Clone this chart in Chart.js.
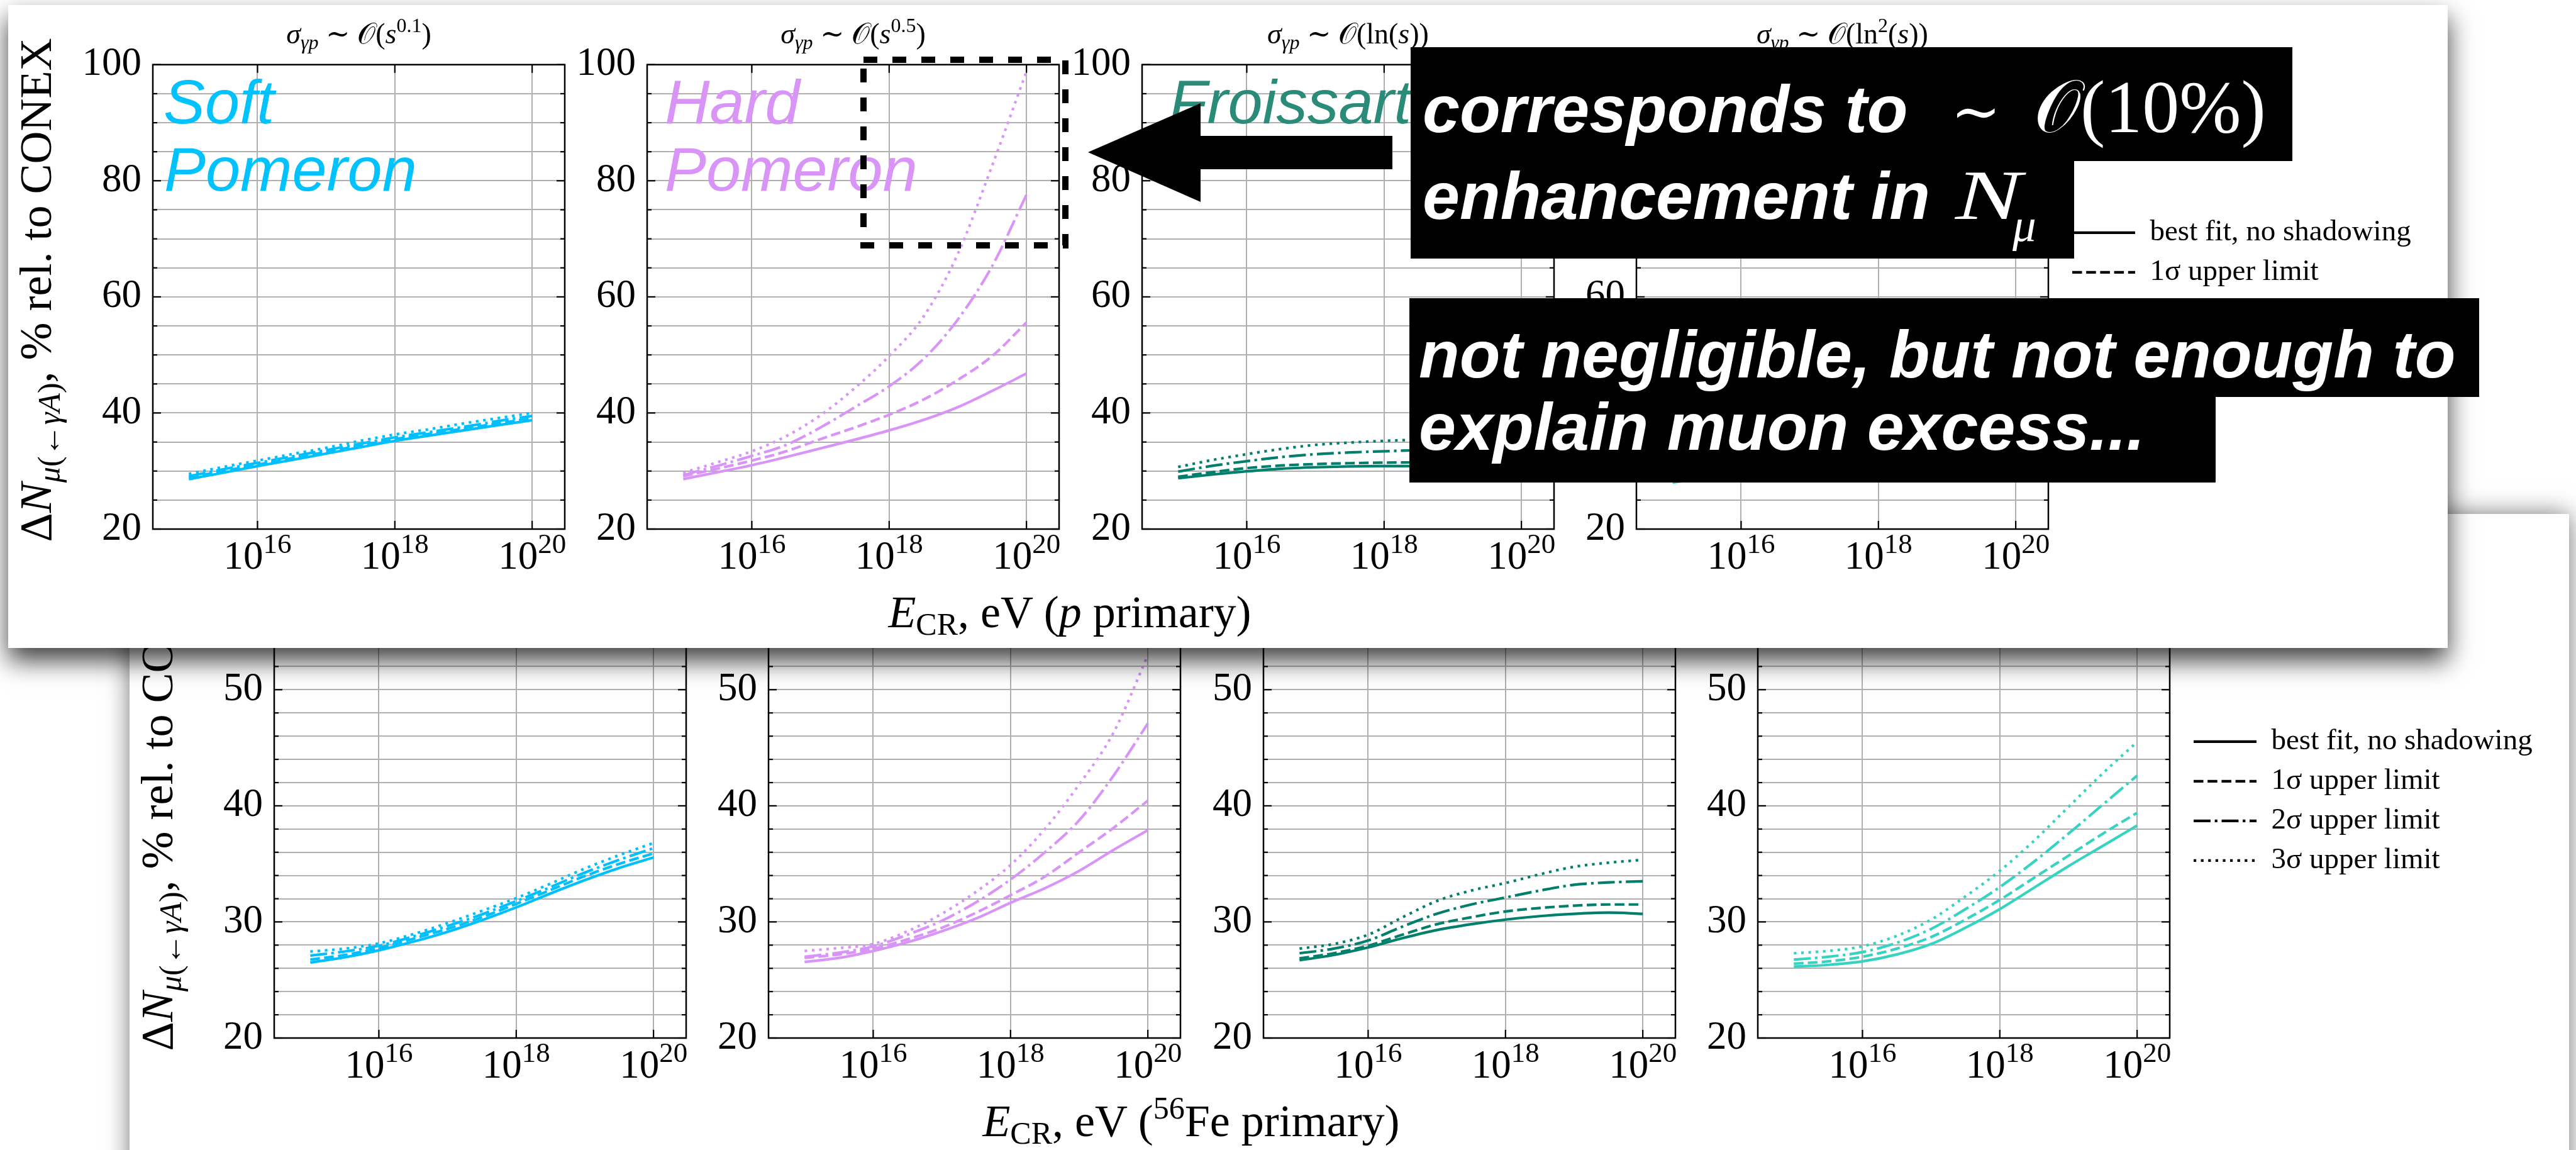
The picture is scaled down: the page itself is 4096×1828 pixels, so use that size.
<!DOCTYPE html>
<html>
<head>
<meta charset="utf-8">
<script src="https://cdn.jsdelivr.net/npm/chart.js@4/dist/chart.umd.min.js"></script>
<style>
  html, body { margin: 0; padding: 0; background: #fff; width: 4096px; height: 1828px; overflow: hidden; }
  .panel { position: absolute; background: #fff; }
  #figP  { left: 13px;  top: 8px;   width: 3879px; height: 1022px; box-shadow: 0 20px 38px rgba(0,0,0,0.75); z-index: 2; }
  #figFe { left: 206px; top: 817px; width: 3879px; height: 1100px; box-shadow: 0 0 36px rgba(0,0,0,0.55); z-index: 1; }
  .panel canvas { position: absolute; }
  .panel svg { position: absolute; left: 0; top: 0; overflow: visible; }
  #callouts { position: absolute; left: 0; top: 0; z-index: 3; }
</style>
</head>
<body>
<div class="panel" id="figFe"></div>
<div class="panel" id="figP"></div>

<svg id="callouts" width="4096" height="1828" xmlns="http://www.w3.org/2000/svg">
  <rect x="1373" y="95" width="321" height="295" fill="none" stroke="#000" stroke-width="10" stroke-dasharray="22 24"/>
  <polygon points="1730,242 1909,164 1909,216 2214,216 2214,269 1909,269 1909,321" fill="#000"/>
  <rect x="2243" y="75" width="1402" height="181" fill="#000"/>
  <rect x="2243" y="255" width="1055" height="156" fill="#000"/>
  <rect x="2241" y="474" width="1701" height="157" fill="#000"/>
  <rect x="2241" y="630" width="1282" height="137" fill="#000"/>
  <g fill="#fff" font-family="'Liberation Sans', Arial, sans-serif" font-weight="bold" font-style="italic" font-size="106">
    <text x="2262" y="210">corresponds to</text>
    <text x="2262" y="348">enhancement in</text>
    <text x="2256" y="600">not negligible, but not enough to</text>
    <text x="2256" y="715">explain muon excess...</text>
  </g>
  <g fill="#fff" font-family="'Liberation Serif', 'DejaVu Serif', serif">
    <text x="3102" y="210" font-size="95">∼</text>
    <text x="3234" y="210" font-size="118">𝒪(10%)</text>
    <text transform="translate(3109,348) scale(1.4,1)" font-size="113" font-style="italic">N</text>
    <text x="3200" y="383" font-size="75" font-style="italic">μ</text>
  </g>
</svg>

<script>
// log10(E_CR / eV) sample points shared by every curve
const X_LOG_E = [15, 15.5, 16, 16.5, 17, 17.5, 18, 18.5, 19, 19.5, 20];
const X_TICKS = [16, 18, 20];
const X_TICK_EXPONENTS = ['16', '18', '20'];
const X_MIN = 14.475, X_MAX = 20.475;

const P_Y_TICKS  = [20, 25, 30, 35, 40, 45, 50, 55, 60, 65, 70, 75, 80, 85, 90, 95, 100];
const P_Y_LABELS = [20, 40, 60, 80, 100];
const FE_Y_TICKS  = [20, 22, 24, 26, 28, 30, 32, 34, 36, 38, 40, 42, 44, 46, 48, 50, 52, 54, 56, 58, 60];
const FE_Y_LABELS = [20, 30, 40, 50, 60];

const SERIES_NAMES = ['best fit, no shadowing', '1σ upper limit', '2σ upper limit', '3σ upper limit'];
const MODEL_COLORS = ['#00bfff', '#d994f7', '#00806c', '#36d3c2'];
const LABEL_COLORS = ['#00c2ff', '#d994f7', '#2b8b79'];

// p primary: [best fit, 1σ, 2σ, 3σ]
const P_SOFT = [
  [28.6, 29.7, 30.85, 31.9, 33.0, 34.1, 35.2, 36.1, 37.0, 37.9, 38.75],
  [28.9, 30.0, 31.1, 32.2, 33.3, 34.4, 35.5, 36.4, 37.3, 38.2, 39.1],
  [29.1, 30.3, 31.4, 32.5, 33.6, 34.7, 35.8, 36.7, 37.6, 38.6, 39.5],
  [29.5, 30.7, 31.8, 32.9, 34.0, 35.2, 36.3, 37.2, 38.2, 39.1, 40.0]
];
const P_HARD = [
  [28.6, 29.8, 31.0, 32.4, 33.9, 35.4, 37.0, 38.8, 41.0, 43.8, 46.8],
  [29.1, 30.4, 31.8, 33.4, 35.5, 37.5, 39.7, 42.3, 45.7, 49.8, 55.6],
  [29.3, 30.9, 32.6, 34.5, 37.5, 41.0, 44.6, 49.3, 56.1, 65.3, 77.6],
  [29.7, 31.5, 33.4, 36.0, 39.6, 44.3, 49.8, 56.6, 67.4, 82.6, 98.8]
];
const P_FROISSART = [
  [28.75, 29.4, 29.95, 30.4, 30.65, 30.8, 30.85, 30.85, 30.8, 30.7, 30.6],
  [29.0, 29.8, 30.5, 30.95, 31.2, 31.35, 31.45, 31.5, 31.55, 31.55, 31.5],
  [29.9, 30.9, 31.7, 32.4, 32.9, 33.2, 33.4, 33.6, 33.7, 33.75, 33.7],
  [30.7, 31.9, 32.9, 33.8, 34.5, 34.9, 35.2, 35.4, 35.6, 35.7, 35.8]
];
const P_LN2 = [
  [28.0, 28.9, 29.9, 31.2, 32.8, 34.6, 36.6, 38.7, 40.9, 43.1, 45.3],
  [28.3, 29.3, 30.4, 31.9, 33.6, 35.6, 37.8, 40.1, 42.5, 45.0, 47.5],
  [28.8, 29.9, 31.2, 32.9, 35.0, 37.4, 40.0, 42.8, 45.8, 48.9, 52.0],
  [29.3, 30.6, 32.1, 34.1, 36.6, 39.4, 42.5, 45.9, 49.5, 53.2, 57.0]
];

// 56Fe primary: [best fit, 1σ, 2σ, 3σ]
const FE_SOFT = [
  [26.5, 26.95, 27.55, 28.3, 29.15, 30.15, 31.25, 32.45, 33.6, 34.65, 35.55],
  [26.75, 27.15, 27.75, 28.55, 29.4, 30.4, 31.55, 32.75, 33.95, 35.0, 35.9],
  [27.1, 27.45, 27.95, 28.75, 29.65, 30.65, 31.8, 33.0, 34.25, 35.35, 36.35],
  [27.45, 27.7, 28.15, 28.95, 29.9, 30.95, 32.05, 33.3, 34.6, 35.75, 36.8]
];
const FE_HARD = [
  [26.55, 26.9, 27.5, 28.25, 29.2, 30.3, 31.65, 32.9, 34.4, 36.2, 37.9],
  [26.9, 27.2, 27.7, 28.5, 29.5, 30.8, 32.3, 33.9, 36.0, 38.1, 40.45],
  [27.0, 27.35, 27.9, 28.9, 30.1, 31.7, 33.65, 36.0, 38.75, 42.6, 47.1],
  [27.5, 27.75, 28.1, 29.2, 30.7, 32.6, 34.9, 38.0, 41.85, 46.3, 52.96]
];
const FE_FROISSART = [
  [26.7, 27.15, 27.8, 28.6, 29.3, 29.8, 30.2, 30.5, 30.7, 30.8, 30.7],
  [26.86, 27.3, 27.95, 28.9, 29.8, 30.4, 30.9, 31.2, 31.4, 31.5, 31.5],
  [27.3, 27.7, 28.4, 29.6, 30.7, 31.5, 32.1, 32.7, 33.2, 33.4, 33.5],
  [27.7, 28.1, 28.9, 30.4, 31.8, 32.7, 33.35, 34.1, 34.75, 35.1, 35.35]
];
const FE_LN2 = [
  [26.15, 26.3, 26.6, 27.2, 28.1, 29.5, 31.1, 32.95, 34.8, 36.55, 38.3],
  [26.4, 26.6, 27.0, 27.7, 28.7, 30.2, 31.9, 33.8, 35.7, 37.6, 39.4],
  [26.75, 27.0, 27.4, 28.2, 29.4, 31.1, 33.0, 35.2, 37.6, 40.1, 42.6],
  [27.3, 27.5, 27.9, 28.8, 30.2, 32.2, 34.4, 37.0, 39.9, 42.8, 45.5]
];

// ---- layout of one figure (pixels inside its panel) ----
const PLOT_LEFTS = [230, 1016, 1803, 2589];
const PLOT_TOP = 84, PLOT_W = 655, PLOT_H = 749;
const AX_W = 120, AX_H = 100, PAD_T = 45, PAD_R = 20;
const LEG_BOX = 300, LEG_EXTRA = 350;
const LINE_W = 4.2;
const DASHES = [[], [15.5, 6.7], [26.9, 6.7, 4.2, 6.7], [4.2, 7.4]];
const GRID = '#b0b0b0';
const SERIF = "'Liberation Serif', 'DejaVu Serif', serif";

const framePlugin = {
  id: 'frame',
  afterDatasetsDraw(chart, args, opts) {
    const { ctx, chartArea: a, scales: { x, y } } = chart;
    ctx.save();
    ctx.strokeStyle = '#000';
    ctx.lineWidth = 2.2;
    ctx.setLineDash([]);
    const seg = (x0, y0, x1, y1) => { ctx.beginPath(); ctx.moveTo(x0, y0); ctx.lineTo(x1, y1); ctx.stroke(); };
    y.ticks.forEach(t => {
      const py = y.getPixelForValue(t.value);
      const len = opts.yLabels.includes(t.value) ? 13 : 7;
      seg(a.left, py, a.left + len, py);
      seg(a.right, py, a.right - len, py);
    });
    x.ticks.forEach(t => {
      const px = x.getPixelForValue(t.value);
      seg(px, a.bottom, px, a.bottom - 13);
      seg(px, a.top, px, a.top + 13);
    });
    ctx.lineWidth = 2.5;
    ctx.strokeRect(a.left, a.top, a.right - a.left, a.bottom - a.top);
    // x tick labels: 10 with the decade exponent
    ctx.fillStyle = '#000';
    ctx.textBaseline = 'alphabetic';
    ctx.textAlign = 'left';
    x.ticks.forEach(t => {
      const idx = X_TICKS.indexOf(t.value);
      if (idx < 0) return;
      const px = x.getPixelForValue(t.value);
      ctx.font = `63px ${SERIF}`;
      const wBase = ctx.measureText('10').width;
      ctx.font = `45px ${SERIF}`;
      const wExp = ctx.measureText(X_TICK_EXPONENTS[idx]).width;
      const x0 = px - (wBase + wExp) / 2;
      const base = a.bottom + 63;
      ctx.font = `63px ${SERIF}`;
      ctx.fillText('10', x0, base);
      ctx.font = `45px ${SERIF}`;
      ctx.fillText(X_TICK_EXPONENTS[idx], x0 + wBase, base - 25);
    });
    ctx.restore();
  }
};

// places the legend a fixed gap right of the plot and gives its text room
const legendShift = {
  id: 'legendShift',
  afterLayout(chart, args, opts) {
    const L = chart.legend;
    if (!L || !L.options.display) return;
    const ca = chart.chartArea;
    const dx = ca.right + opts.gap - L.options.labels.padding - L.left;
    L.left += dx;
    L.right = L.left + opts.room;
    L.width = opts.room;
    L.top += opts.dy; L.bottom += opts.dy;
  }
};

function chartConfig(series, color, yMin, yMax, yTicks, yLabels, withLegend) {
  const datasets = series.map((ys, k) => ({
    label: SERIES_NAMES[k],
    data: X_LOG_E.map((xv, j) => ({ x: xv, y: ys[j] })),
    borderColor: color,
    backgroundColor: color,
    borderWidth: LINE_W,
    borderDash: DASHES[k],
    pointRadius: 0,
    pointHoverRadius: 0,
    fill: false,
    cubicInterpolationMode: 'monotone'
  }));
  return {
    type: 'line',
    data: { datasets },
    options: {
      responsive: false,
      animation: false,
      devicePixelRatio: 1,
      events: [],
      layout: { padding: { left: 0, top: PAD_T, right: withLegend ? LEG_EXTRA : PAD_R, bottom: 0 } },
      scales: {
        x: {
          type: 'linear', min: X_MIN, max: X_MAX,
          afterBuildTicks: s => { s.ticks = X_TICKS.map(v => ({ value: v })); },
          afterFit: s => { s.height = AX_H; },
          grid: { color: GRID, lineWidth: 2, drawTicks: false },
          border: { display: false },
          ticks: { display: false }
        },
        y: {
          type: 'linear', min: yMin, max: yMax,
          afterBuildTicks: s => { s.ticks = yTicks.map(v => ({ value: v })); },
          afterFit: s => { s.width = AX_W; },
          grid: { color: GRID, lineWidth: 2, drawTicks: false },
          border: { display: false },
          ticks: {
            autoSkip: false, padding: 18, color: '#000',
            font: { family: SERIF, size: 63 },
            callback: v => (yLabels.includes(v) ? String(v) : '')
          }
        }
      },
      plugins: {
        tooltip: { enabled: false },
        frame: { yLabels },
        legendShift: { gap: 38, dy: -7.5, room: 620 },
        legend: withLegend ? {
          display: true, position: 'right', align: 'center', fullSize: false, maxWidth: LEG_BOX,
          labels: {
            usePointStyle: true, pointStyle: 'line', pointStyleWidth: 100,
            padding: 16, color: '#000', font: { family: SERIF, size: 47 },
            generateLabels: chart => chart.data.datasets.map((ds, i) => ({
              text: ds.label, fillStyle: '#000', strokeStyle: '#000', fontColor: '#000',
              lineWidth: LINE_W, lineDash: ds.borderDash, pointStyle: 'line',
              hidden: false, datasetIndex: i
            }))
          }
        } : { display: false }
      }
    },
    plugins: [framePlugin, legendShift]
  };
}

function titleMarkup(i) {
  const head = `<tspan font-style="italic">σ</tspan><tspan font-size="32" font-style="italic" dy="9">γp</tspan><tspan dy="-9"> ∼ 𝒪(</tspan>`;
  const tails = [
    `<tspan font-style="italic">s</tspan><tspan font-size="32" dy="-18">0.1</tspan><tspan dy="18">)</tspan>`,
    `<tspan font-style="italic">s</tspan><tspan font-size="32" dy="-18">0.5</tspan><tspan dy="18">)</tspan>`,
    `<tspan>ln(</tspan><tspan font-style="italic">s</tspan><tspan>))</tspan>`,
    `<tspan>ln</tspan><tspan font-size="32" dy="-18">2</tspan><tspan dy="18">(</tspan><tspan font-style="italic">s</tspan><tspan>))</tspan>`
  ];
  return head + tails[i];
}

function buildFigure(panelId, models, yMin, yMax, yTicks, yLabels, primaryMarkup, withNames) {
  const panel = document.getElementById(panelId);
  models.forEach((series, i) => {
    const withLegend = i === 3;
    const cv = document.createElement('canvas');
    cv.width = AX_W + PLOT_W + (withLegend ? LEG_BOX + LEG_EXTRA : PAD_R);
    cv.height = PAD_T + PLOT_H + AX_H;
    cv.style.left = (PLOT_LEFTS[i] - AX_W) + 'px';
    cv.style.top = (PLOT_TOP - PAD_T) + 'px';
    panel.appendChild(cv);
    new Chart(cv, chartConfig(series, MODEL_COLORS[i], yMin, yMax, yTicks, yLabels, withLegend));
  });

  let s = `<svg xmlns="http://www.w3.org/2000/svg" width="3879" height="1100" font-family="${SERIF}" fill="#000">`;
  PLOT_LEFTS.forEach((lx, i) => {
    s += `<text x="${lx + PLOT_W / 2}" y="61" text-anchor="middle" font-size="46">${titleMarkup(i)}</text>`;
  });
  s += `<text transform="translate(68,453) rotate(-90)" text-anchor="middle" font-size="72">Δ<tspan font-style="italic">N</tspan><tspan font-size="50" font-style="italic" dy="14">μ</tspan><tspan font-size="50">(←</tspan><tspan font-size="50" font-style="italic">γA</tspan><tspan font-size="50">)</tspan><tspan dy="-14">, % rel. to CONEX</tspan></text>`;
  s += `<text x="1688" y="989" text-anchor="middle" font-size="72"><tspan font-style="italic">E</tspan><tspan font-size="50" dy="12">CR</tspan><tspan dy="-12">, eV (</tspan>${primaryMarkup}</text>`;
  if (withNames) {
    const g = `font-family="'Liberation Sans', Arial, sans-serif" font-style="italic" font-size="99"`;
    s += `<text x="247" y="188" ${g} fill="${LABEL_COLORS[0]}">Soft</text>`;
    s += `<text x="248" y="295" ${g} fill="${LABEL_COLORS[0]}">Pomeron</text>`;
    s += `<text x="1044" y="188" ${g} fill="${LABEL_COLORS[1]}">Hard</text>`;
    s += `<text x="1044" y="295" ${g} fill="${LABEL_COLORS[1]}">Pomeron</text>`;
    s += `<text x="1846" y="188" ${g} fill="${LABEL_COLORS[2]}">Froissart</text>`;
  }
  s += `</svg>`;
  panel.insertAdjacentHTML('beforeend', s);
}

buildFigure('figFe', [FE_SOFT, FE_HARD, FE_FROISSART, FE_LN2], 20, 60, FE_Y_TICKS, FE_Y_LABELS,
  `<tspan font-size="50" dy="-28">56</tspan><tspan dy="28">Fe primary)</tspan>`, false);
buildFigure('figP', [P_SOFT, P_HARD, P_FROISSART, P_LN2], 20, 100, P_Y_TICKS, P_Y_LABELS,
  `<tspan font-style="italic">p</tspan><tspan> primary)</tspan>`, true);
</script>
</body>
</html>
